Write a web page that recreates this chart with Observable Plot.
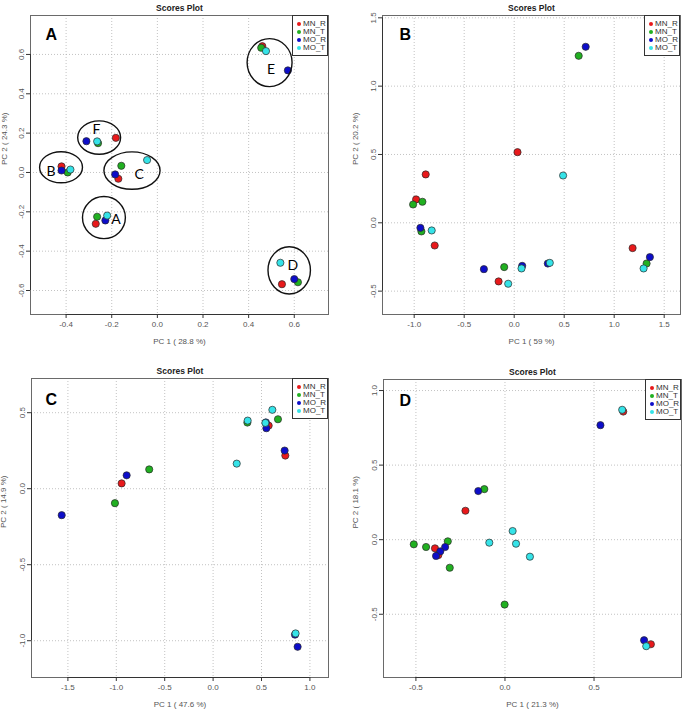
<!DOCTYPE html>
<html><head><meta charset="utf-8">
<script src="https://cdn.jsdelivr.net/npm/d3@7"></script>
<script src="https://cdn.jsdelivr.net/npm/@observablehq/plot@0.6"></script>
<style>
body{margin:0;background:#fff;}
#wrap{position:relative;width:682px;height:711px;overflow:hidden;font-family:"Liberation Sans",Arial,sans-serif;}
.panel{position:absolute;}
.legend{position:absolute;border:1px solid #333;background:#fff;box-sizing:border-box;width:36px;height:41px;}
.legend .row{position:absolute;left:0;height:8px;font-size:8px;line-height:8px;color:#333;white-space:nowrap;}
.legend .dot{position:absolute;left:4px;top:2px;width:4px;height:4px;border-radius:50%;}
.legend .lab{position:absolute;left:10px;top:0;}
</style></head>
<body><div id="wrap"></div>
<script>
// ---- shared categories ----
const groups = ["MN_R", "MN_T", "MO_R", "MO_T"];
const colors = ["#e8191b", "#21b021", "#0d0dc9", "#35e3e8"];

// ---- Panel A ----
const aGroup = ["MN_R","MN_T","MO_T","MO_R", "MO_R","MO_T","MN_T","MN_R", "MN_R","MO_R","MN_T","MO_T", "MN_T","MO_T","MO_R","MN_R", "MN_T","MO_T","MO_R","MN_R", "MO_T","MN_R","MO_R","MN_T"];
const aX = [0.460,0.455,0.476,0.572, -0.311,-0.264,-0.260,-0.182, -0.420,-0.420,-0.393,-0.381, -0.158,-0.045,-0.185,-0.171, -0.264,-0.220,-0.228,-0.270, 0.539,0.546,0.600,0.616];
const aY = [0.642,0.634,0.617,0.519, 0.159,0.158,0.149,0.176, 0.031,0.010,0.000,0.015, 0.034,0.063,-0.010,-0.032, -0.225,-0.219,-0.244,-0.261, -0.459,-0.568,-0.542,-0.558];
const aXTicks = [-0.4,-0.2,0.0,0.2,0.4,0.6];
const aYTicks = [-0.6,-0.4,-0.2,0.0,0.2,0.4,0.6];
// cluster annotations (panel A)
const clusterNames = ["E","F","B","C","A","D"];
const clusterCX = [0.494,-0.253,-0.420,-0.109,-0.232,0.580];
const clusterCY = [0.556,0.175,0.024,0.007,-0.232,-0.500];
const clusterRX = [0.0985,0.094,0.094,0.123,0.094,0.093];
const clusterRY = [0.122,0.085,0.079,0.095,0.107,0.120];
const clusterLabelX = [0.498,-0.267,-0.466,-0.080,-0.181,0.594];
const clusterLabelY = [0.522,0.217,0.005,-0.010,-0.241,-0.473];

// ---- Panel B ----
const bGroup = ["MN_R","MN_R","MN_R","MN_R","MN_R","MN_R", "MN_T","MN_T","MN_T","MN_T","MN_T","MN_T", "MO_R","MO_R","MO_R","MO_R","MO_R","MO_R", "MO_T","MO_T","MO_T","MO_T","MO_T","MO_T"];
const bX = [0.033,-0.885,-0.981,-0.795,-0.156,1.184, 0.645,-1.011,-0.918,-0.928,-0.100,1.324, 0.715,-0.938,-0.303,0.080,0.336,1.357, 0.489,-0.825,-0.060,0.073,0.356,1.294];
const bY = [0.517,0.354,0.171,-0.166,-0.429,-0.185, 1.222,0.134,0.154,-0.063,-0.324,-0.298, 1.288,-0.037,-0.339,-0.315,-0.298,-0.251, 0.346,-0.056,-0.446,-0.334,-0.293,-0.334];
const bXTicks = [-1.0,-0.5,0.0,0.5,1.0,1.5];
const bYTicks = [-0.5,0.0,0.5,1.0,1.5];

// ---- Panel C ----
const cGroup = ["MN_R","MN_R","MN_R", "MN_T","MN_T","MN_T","MN_T", "MO_R","MO_R","MO_R","MO_R","MO_R","MO_R","MO_R", "MO_T","MO_T","MO_T","MO_T","MO_T"];
const cX = [-0.945,0.574,0.746, -1.014,-0.660,0.354,0.670, -1.564,-0.893,0.550,0.739,0.873,0.846,0.545, 0.244,0.357,0.612,0.540,0.852];
const cY = [0.035,0.415,0.218, -0.095,0.127,0.435,0.457, -0.174,0.088,0.398,0.251,-1.040,-0.960,0.436, 0.165,0.448,0.519,0.433,-0.952];
const cXTicks = [-1.5,-1.0,-0.5,0.0,0.5,1.0];
const cYTicks = [-1.0,-0.5,0.0,0.5];

// ---- Panel D ----
const dGroup = ["MN_R","MN_R","MN_R","MN_R","MN_R", "MN_T","MN_T","MN_T","MN_T","MN_T","MN_T", "MO_R","MO_R","MO_R","MO_R","MO_R","MO_R", "MO_T","MO_T","MO_T","MO_T","MO_T","MO_T"];
const dX = [0.664,-0.222,-0.393,-0.374,0.819, -0.116,-0.512,-0.443,-0.321,-0.310,-0.002, 0.536,-0.150,-0.336,-0.363,-0.387,0.781, 0.658,0.043,-0.088,0.062,0.140,0.793];
const dY = [0.859,0.194,-0.058,-0.103,-0.701, 0.339,-0.031,-0.049,-0.011,-0.188,-0.435, 0.768,0.326,-0.049,-0.078,-0.109,-0.674, 0.871,0.058,-0.020,-0.027,-0.114,-0.714];
const dXTicks = [-0.5,0.0,0.5];
const dYTicks = [-0.5,0.0,0.5,1.0];

const fmt = d => d.toFixed(1);

function ellipseMark(items) {
  return (index, scales) => {
    const g = d3.create("svg:g").attr("fill", "none").attr("stroke", "#111").attr("stroke-width", 1.4);
    for (const e of items) {
      const cx = scales.x(e.cx), cy = scales.y(e.cy);
      const rx = Math.abs(scales.x(e.cx + e.rx) - cx);
      const ry = Math.abs(scales.y(e.cy + e.ry) - cy);
      g.append("ellipse").attr("cx", cx).attr("cy", cy).attr("rx", rx).attr("ry", ry);
    }
    return g.node();
  };
}

function makePanel(p) {
  const data = p.x.map((x, i) => ({x, y: p.y[i], g: p.g[i]}))
    .sort((a, b) => groups.indexOf(a.g) - groups.indexOf(b.g));
  const gridStyle = {stroke: "#b4b4b4", strokeOpacity: 1, strokeWidth: 0.8, strokeDasharray: "1,2"};
  const marks = [
    Plot.gridX(p.xTicks, gridStyle),
    Plot.gridY(p.yTicks, gridStyle),
    Plot.frame({stroke: "#6a6a6a", strokeWidth: 1}),
    Plot.ruleY([p.yDomain[0]], {x1: p.xTicks[0], x2: p.xTicks[p.xTicks.length - 1], stroke: "#333"}),
    Plot.ruleX([p.xDomain[0]], {y1: p.yTicks[0], y2: p.yTicks[p.yTicks.length - 1], stroke: "#333"}),
    Plot.axisX(p.xTicks, {tickSize: 4, tickPadding: 3, tickFormat: fmt, label: null, stroke: "#333", fill: "#555", fontSize: 8}),
    Plot.axisY(p.yTicks, {tickSize: 4, tickPadding: 3, tickFormat: fmt, tickRotate: -90, label: null, stroke: "#333", fill: "#555", fontSize: 8}),
    Plot.dot(data, {x: "x", y: "y", fill: "g", r: 3.6, stroke: "#2a2a2a", strokeWidth: 0.7}),
    Plot.text(["Scores Plot"], {frameAnchor: "top", dy: -11, fontWeight: "bold", fontSize: 8.5, fill: "#222"}),
    Plot.text([p.xLabel], {frameAnchor: "bottom", dy: 29, fontSize: 8, fill: "#555"}),
    Plot.text([p.yLabel], {frameAnchor: "left", dx: p.yTitleDx, rotate: -90, fontSize: 8, fill: "#555"}),
    Plot.text([p.letter], {frameAnchor: "top-left", textAnchor: "start", dx: p.letterDx, dy: p.letterDy, fontSize: 16, fontWeight: "bold", fill: "#000"})
  ];
  if (p.ellipses) {
    marks.push(ellipseMark(p.ellipses));
    marks.push(Plot.text(p.ellipses, {x: "lx", y: "ly", text: "name", fontSize: 14, fill: "#000", fontFamily: "Lato, 'Open Sans', sans-serif"}));
  }
  const chart = Plot.plot({
    width: 341, height: p.h,
    marginLeft: p.m[0], marginRight: p.m[1], marginTop: p.m[2], marginBottom: p.m[3],
    x: {domain: p.xDomain},
    y: {domain: p.yDomain},
    color: {domain: groups, range: colors},
    style: {fontFamily: "'Liberation Sans', Arial, sans-serif", fontSize: "8px", background: "transparent", color: "#333"},
    marks
  });
  const wrap = document.getElementById("wrap");
  const holder = document.createElement("div");
  holder.className = "panel";
  holder.style.left = p.left + "px";
  holder.style.top = p.top + "px";
  holder.appendChild(chart);
  wrap.appendChild(holder);
  // legend (top-right inside frame)
  const lg = document.createElement("div");
  lg.className = "legend";
  lg.style.left = (p.left + 341 - p.m[1] - 36) + "px";
  lg.style.top = (p.top + p.m[2]) + "px";
  groups.forEach((name, i) => {
    const row = document.createElement("div");
    row.className = "row";
    row.style.top = (4 + i * 8) + "px";
    const dot = document.createElement("span");
    dot.className = "dot";
    dot.style.background = colors[i];
    const lab = document.createElement("span");
    lab.className = "lab";
    lab.textContent = name;
    row.appendChild(dot); row.appendChild(lab);
    lg.appendChild(row);
  });
  wrap.appendChild(lg);
}

const ellipsesA = clusterNames.map((name, i) => ({
  name, cx: clusterCX[i], cy: clusterCY[i], rx: clusterRX[i], ry: clusterRY[i], lx: clusterLabelX[i], ly: clusterLabelY[i]
}));

makePanel({left: 0, top: 0, h: 350, m: [30, 13, 15, 36], x: aX, y: aY, g: aGroup,
  xDomain: [-0.556, 0.750], yDomain: [-0.722, 0.798], xTicks: aXTicks, yTicks: aYTicks,
  xLabel: "PC 1 ( 28.8 %)", yLabel: "PC 2 ( 24.3 %)", yTitleDx: -26, letter: "A", letterDx: 15, letterDy: 13,
  ellipses: ellipsesA});
makePanel({left: 341, top: 0, h: 350, m: [41, 2, 15, 36], x: bX, y: bY, g: bGroup,
  xDomain: [-1.317, 1.663], yDomain: [-0.671, 1.517], xTicks: bXTicks, yTicks: bYTicks,
  xLabel: "PC 1 ( 59 %)", yLabel: "PC 2 ( 20.2 %)", yTitleDx: -27, letter: "B", letterDx: 17, letterDy: 13});
makePanel({left: 0, top: 350, h: 361, m: [31, 13, 28, 34], x: cX, y: cY, g: cGroup,
  xDomain: [-1.876, 1.192], yDomain: [-1.242, 0.725], xTicks: cXTicks, yTicks: cYTicks,
  xLabel: "PC 1 ( 47.6 %)", yLabel: "PC 2 ( 14.9 %)", yTitleDx: -28, letter: "C", letterDx: 14, letterDy: 15});
makePanel({left: 341, top: 350, h: 361, m: [42, 1, 29, 34], x: dX, y: dY, g: dGroup,
  xDomain: [-0.682, 0.991], yDomain: [-0.924, 1.074], xTicks: dXTicks, yTicks: dYTicks,
  xLabel: "PC 1 ( 21.3 %)", yLabel: "PC 2 ( 18.1 %)", yTitleDx: -28, letter: "D", letterDx: 16, letterDy: 15});
</script>
</body></html>
